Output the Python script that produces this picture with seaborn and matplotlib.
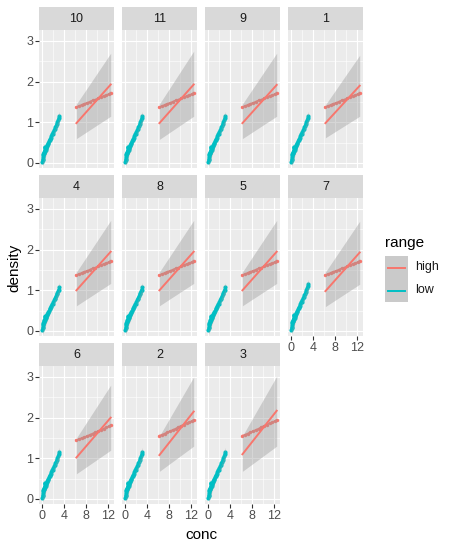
import matplotlib
matplotlib.use('Agg')
import matplotlib.pyplot as plt
import seaborn as sns

plt.rcParams['font.family'] = ['Liberation Sans', 'DejaVu Sans']

# facet order (Run factor)
runs = ['10', '11', '9', '1', '4', '8', '5', '7', '6', '2', '3']

# low range: dense points from 0 to ~3.1
low_conc = [0.05, 0.08, 0.12, 0.17, 0.20, 0.25, 0.30, 0.36, 0.40, 0.47, 0.55, 0.62,
            0.70, 0.78, 0.86, 0.95, 1.05, 1.15, 1.25, 1.36, 1.47, 1.56, 1.68, 1.80,
            1.92, 2.05, 2.18, 2.30, 2.42, 2.55, 2.68, 2.80, 2.92, 3.02, 3.12]
low_density_a = [0.03, 0.08, 0.10, 0.15, 0.20, 0.22, 0.24, 0.28, 0.25, 0.40, 0.30, 0.33,
                 0.36, 0.38, 0.42, 0.45, 0.47, 0.50, 0.54, 0.57, 0.60, 0.62, 0.66, 0.72,
                 0.72, 0.76, 0.80, 0.84, 0.88, 0.92, 0.97, 1.00, 1.05, 1.10, 1.15]
low_density_b = [0.02, 0.07, 0.09, 0.14, 0.18, 0.20, 0.22, 0.26, 0.24, 0.36, 0.28, 0.31,
                 0.34, 0.36, 0.39, 0.42, 0.44, 0.47, 0.50, 0.53, 0.56, 0.58, 0.62, 0.66,
                 0.67, 0.71, 0.75, 0.78, 0.82, 0.86, 0.90, 0.94, 0.98, 1.02, 1.07]

# high range: dense points from 6.25 to 12.5
high_conc = [6.25, 6.7, 7.2, 7.7, 8.2, 8.7, 9.2, 9.7, 10.2, 10.7, 11.2, 11.7, 12.2, 12.5]
high_density_a = [1.38, 1.40, 1.43, 1.46, 1.48, 1.51, 1.54, 1.56, 1.59, 1.62, 1.65, 1.67, 1.70, 1.73]
high_density_b = [1.45, 1.47, 1.50, 1.52, 1.55, 1.58, 1.61, 1.64, 1.67, 1.70, 1.73, 1.76, 1.79, 1.82]
high_density_c = [1.56, 1.58, 1.61, 1.64, 1.67, 1.70, 1.73, 1.77, 1.80, 1.83, 1.86, 1.89, 1.92, 1.95]

low_profile = {'4': 'b', '8': 'b', '5': 'b'}
high_profile = {'6': 'b', '2': 'c', '3': 'c'}

# fitted lines (lm) and their bands, read at the ends of each range
low_fit_conc = [0.05, 1.6, 3.125]
low_fit_a = [0.02, 0.58, 1.13]
low_fit_b = [0.01, 0.54, 1.06]
low_band_lo_a = [-0.08, 0.55, 1.00]
low_band_hi_a = [0.12, 0.61, 1.27]
low_band_lo_b = [-0.09, 0.51, 0.93]
low_band_hi_b = [0.11, 0.57, 1.19]

high_fit_conc = [6.25, 12.5]
fit_high_start = [0.98, 0.98, 0.98, 0.98, 1.00, 1.00, 1.00, 0.98, 1.02, 1.08, 1.10]
fit_high_end = [1.93, 1.93, 1.92, 1.90, 1.95, 1.95, 1.95, 1.93, 2.00, 2.15, 2.17]
band_lo_start = [0.60, 0.58, 0.60, 0.62, 0.62, 0.62, 0.62, 0.60, 0.62, 0.68, 0.68]
band_hi_start = [1.45, 1.45, 1.45, 1.43, 1.45, 1.45, 1.45, 1.45, 1.50, 1.55, 1.55]
band_lo_end = [1.15, 1.15, 1.15, 1.15, 1.17, 1.17, 1.17, 1.15, 1.20, 1.30, 1.30]
band_hi_end = [2.70, 2.75, 2.70, 2.65, 2.72, 2.72, 2.72, 2.70, 2.80, 3.00, 3.02]

HIGH = '#F8766D'
LOW = '#00BFC4'
W, H = 454, 550

fig = plt.figure(figsize=(W / 100, H / 100), dpi=100)


def box(left, top, w, h):
    return [left / W, 1 - (top + h) / H, w / W, h / H]


col_left = [39, 122, 205, 288]
for i, run in enumerate(runs):
    r, c = divmod(i, 4)
    ax = fig.add_axes(box(col_left[c], 30 + 168 * r, 75, 138))
    ax.set_facecolor('#EBEBEB')

    lowd = low_density_b if low_profile.get(run) == 'b' else low_density_a
    hp = high_profile.get(run, 'a')
    highd = {'a': high_density_a, 'b': high_density_b, 'c': high_density_c}[hp]

    # points
    sns.scatterplot(x=low_conc, y=lowd, color=LOW, s=9, linewidth=0, ax=ax, zorder=3)
    sns.lineplot(x=low_conc, y=lowd, color=LOW, lw=1.6, ax=ax, zorder=3)
    sns.scatterplot(x=high_conc, y=highd, color=HIGH, s=6, linewidth=0, ax=ax, zorder=3)
    sns.lineplot(x=high_conc, y=highd, color=HIGH, lw=1.1, ax=ax, zorder=3)

    # low smooth
    if low_profile.get(run) == 'b':
        lf, llo, lhi = low_fit_b, low_band_lo_b, low_band_hi_b
    else:
        lf, llo, lhi = low_fit_a, low_band_lo_a, low_band_hi_a
    ax.fill_between(low_fit_conc, llo, lhi, color='#999999', alpha=0.4, lw=0, zorder=4)
    sns.lineplot(x=low_fit_conc, y=lf, color=LOW, lw=1.4, ax=ax, zorder=5)

    # high smooth
    ax.fill_between(high_fit_conc, [band_lo_start[i], band_lo_end[i]],
                    [band_hi_start[i], band_hi_end[i]], color='#999999', alpha=0.4,
                    lw=0, zorder=4)
    sns.lineplot(x=high_fit_conc, y=[fit_high_start[i], fit_high_end[i]], color=HIGH,
                 lw=1.4, ax=ax, zorder=5)

    ax.set_xlim(-0.57, 13.1)
    ax.set_ylim(-0.123, 3.27)
    ax.set_xticks([0, 4, 8, 12])
    ax.set_xticks([2, 6, 10], minor=True)
    ax.set_yticks([0, 1, 2, 3])
    ax.set_yticks([0.5, 1.5, 2.5], minor=True)
    ax.grid(which='major', color='white', lw=0.8, zorder=0)
    ax.grid(which='minor', color='white', lw=0.4, zorder=0)
    ax.set_axisbelow(True)
    for s in ax.spines.values():
        s.set_visible(False)
    ax.set_xlabel('')
    ax.set_ylabel('')
    ax.tick_params(which='minor', length=0)
    ax.tick_params(which='major', length=2.6, width=0.8, color='#333333',
                   labelsize=9, labelcolor='#4D4D4D', pad=1.5)
    show_x = (r == 2) or (r == 1 and c == 3)
    if not show_x:
        ax.tick_params(axis='x', length=0, labelbottom=False)
    if c != 0:
        ax.tick_params(axis='y', length=0, labelleft=False)

    # strip
    sax = fig.add_axes(box(col_left[c], 7 + 168 * r, 75, 23))
    sax.set_facecolor('#D9D9D9')
    sax.set_xticks([])
    sax.set_yticks([])
    for s in sax.spines.values():
        s.set_visible(False)
    sax.text(0.5, 0.5, run, ha='center', va='center', fontsize=9, color='#1A1A1A',
             transform=sax.transAxes)

fig.text(201 / W, 1 - 535 / H, 'conc', ha='center', va='center', fontsize=11)
fig.text(14 / W, 1 - 268 / H, 'density', ha='center', va='center', rotation=90,
         fontsize=11)

# legend
fig.text(385 / W, 1 - 243 / H, 'range', ha='left', va='center', fontsize=11)
lax = fig.add_axes(box(385, 256, 23, 46))
lax.set_xlim(0, 1)
lax.set_ylim(0, 2)
lax.set_facecolor('#CACACA')
for s in lax.spines.values():
    s.set_visible(False)
lax.set_xticks([])
lax.set_yticks([])
lax.plot([0.13, 0.87], [1.5, 1.5], color=HIGH, lw=1.4)
lax.plot([0.13, 0.87], [0.5, 0.5], color=LOW, lw=1.4)
fig.text(415 / W, 1 - 267 / H, 'high', ha='left', va='center', fontsize=9, color='#1A1A1A')
fig.text(415 / W, 1 - 290 / H, 'low', ha='left', va='center', fontsize=9, color='#1A1A1A')

fig.savefig('out.png', dpi=100, facecolor='white')
